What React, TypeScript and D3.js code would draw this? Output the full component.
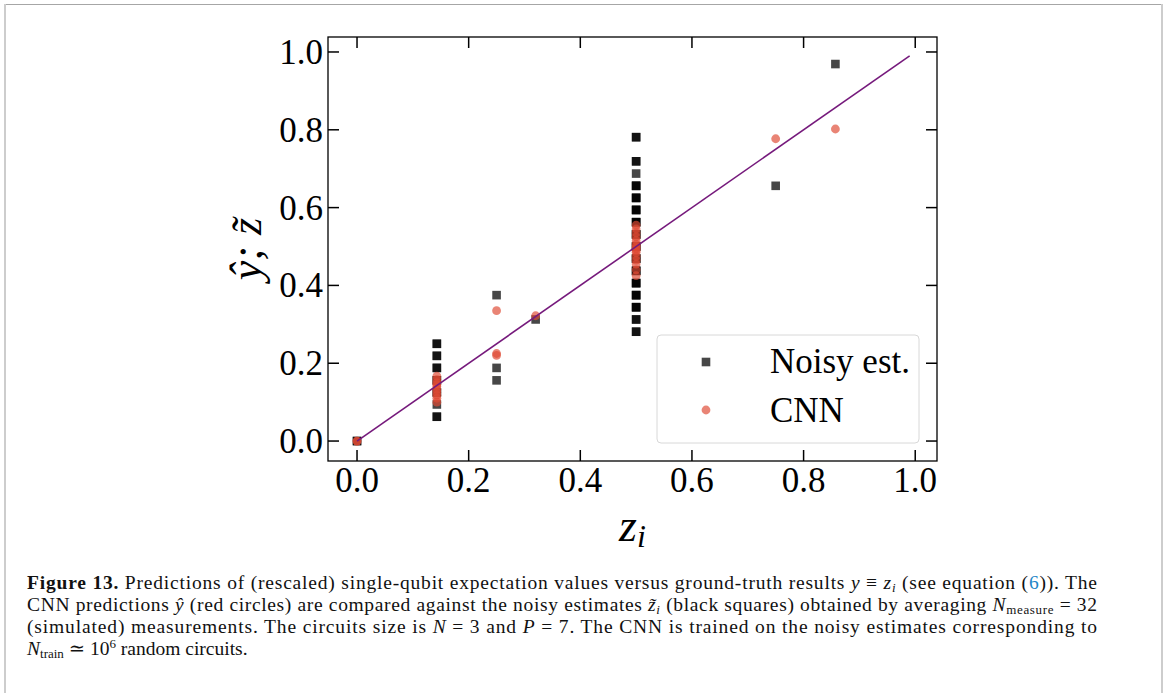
import React from 'react';
import * as d3 from 'd3';

// ---- data ----
const tickValues = [0, 0.2, 0.4, 0.6, 0.8, 1.0];
const tickLabels = ['0.0', '0.2', '0.4', '0.6', '0.8', '1.0'];

// noisy estimates (black squares): ground truth z_i and estimate
const noisyZ = [
  0, 0,
  0.143, 0.143, 0.143, 0.143, 0.143, 0.143, 0.143, 0.143, 0.143, 0.143, 0.143, 0.143, 0.143,
  0.25, 0.25, 0.25,
  0.32,
  0.5, 0.5, 0.5, 0.5, 0.5, 0.5, 0.5, 0.5, 0.5, 0.5, 0.5, 0.5, 0.5, 0.5, 0.5, 0.5,
  0.5, 0.5, 0.5, 0.5, 0.5, 0.5, 0.5, 0.5, 0.5, 0.5, 0.5, 0.5, 0.5, 0.5, 0.5, 0.5,
  0.5, 0.5, 0.5, 0.5, 0.5, 0.5, 0.5, 0.5, 0.5, 0.5,
  0.75,
  0.857,
];
const noisyEst = [
  0, 0,
  0.25, 0.25, 0.219, 0.219, 0.188, 0.188, 0.156, 0.156, 0.125, 0.125, 0.094, 0.0625, 0.0625,
  0.375, 0.188, 0.156,
  0.3125,
  0.781, 0.781, 0.719, 0.719, 0.6875, 0.656, 0.656, 0.656, 0.625, 0.625, 0.625, 0.594, 0.594, 0.594, 0.5625, 0.5625,
  0.5625, 0.531, 0.531, 0.531, 0.5, 0.5, 0.5, 0.469, 0.469, 0.469, 0.4375, 0.4375, 0.4375, 0.406, 0.406, 0.406,
  0.375, 0.375, 0.375, 0.344, 0.344, 0.344, 0.3125, 0.3125, 0.281, 0.281,
  0.656,
  0.969,
];

// CNN predictions (red circles)
const cnnZ = [
  0, 0,
  0.143, 0.143, 0.143, 0.143, 0.143, 0.143, 0.143, 0.143, 0.143, 0.143,
  0.25, 0.25, 0.25,
  0.32,
  0.5, 0.5, 0.5, 0.5, 0.5, 0.5, 0.5, 0.5, 0.5, 0.5, 0.5, 0.5, 0.5, 0.5, 0.5,
  0.75,
  0.857,
];
const cnnPred = [
  0, 0,
  0.167, 0.158, 0.15, 0.145, 0.14, 0.132, 0.125, 0.118, 0.11, 0.1,
  0.335, 0.225, 0.22,
  0.322,
  0.555, 0.545, 0.535, 0.525, 0.515, 0.505, 0.5, 0.495, 0.49, 0.485, 0.475, 0.465, 0.455, 0.44, 0.425,
  0.777,
  0.802,
];

// identity reference line y = z
const lineZ = [0, 0.99];

const legendNames = ['Noisy est.', 'CNN'];

type Seg = { t: string; b?: boolean; i?: boolean; sub?: boolean; sup?: boolean; c?: string };

const captionLines: Seg[][] = [
  [
    { t: 'Figure 13.', b: true },
    { t: ' Predictions of (rescaled) single-qubit expectation values versus ground-truth results ' },
    { t: 'y', i: true },
    { t: ' \u2261 ' },
    { t: 'z', i: true },
    { t: 'i', i: true, sub: true },
    { t: ' (see equation (' },
    { t: '6', c: '#1f86c8' },
    { t: ')). The' },
  ],
  [
    { t: 'CNN predictions ' },
    { t: '\u0177', i: true },
    { t: ' (red circles) are compared against the noisy estimates ' },
    { t: 'z\u0303', i: true },
    { t: 'i', i: true, sub: true },
    { t: ' (black squares) obtained by averaging ' },
    { t: 'N', i: true },
    { t: 'measure', sub: true },
    { t: ' = 32' },
  ],
  [
    { t: '(simulated) measurements. The circuits size is ' },
    { t: 'N', i: true },
    { t: ' = 3 and ' },
    { t: 'P', i: true },
    { t: ' = 7. The CNN is trained on the noisy estimates corresponding to' },
  ],
  [
    { t: 'N', i: true },
    { t: 'train', sub: true },
    { t: ' \u2243 10' },
    { t: '6', sup: true },
    { t: ' random circuits.' },
  ],
];

const W = 1168;
const H = 693;
const plot = { left: 328, right: 937, top: 37, bottom: 461 };

const serif = "'Liberation Serif', 'DejaVu Serif', serif";

function Caption() {
  const x0 = 27;
  const baselines = [589, 611, 633, 655];
  const rightEdge = 1097;
  return (
    <g fontFamily={serif} fontSize={19.5} fill="#111">
      {captionLines.map((line, li) => {
        let offset = 0;
        const spans = line.map((s, si) => {
          let target = 0;
          if (s.sub) target = 3;
          if (s.sup) target = -7;
          const dy = target - offset;
          offset = target;
          return (
            <tspan
              key={si}
              dy={dy}
              fontWeight={s.b ? 'bold' : 'normal'}
              fontStyle={s.i ? 'italic' : 'normal'}
              fontSize={s.sub || s.sup ? 13 : undefined}
              fill={s.c || undefined}
            >
              {s.t}
            </tspan>
          );
        });
        const justify = li < 3;
        return (
          <text
            key={li}
            x={x0}
            y={baselines[li]}
            textLength={justify ? rightEdge - x0 : undefined}
            lengthAdjust={justify ? 'spacing' : undefined}
            xmlSpace="preserve"
          >
            {spans}
          </text>
        );
      })}
    </g>
  );
}

export default function App() {
  const x = d3.scaleLinear().domain([-0.052, 1.039]).range([plot.left, plot.right]);
  const y = d3.scaleLinear().domain([-0.0513, 1.0385]).range([plot.bottom, plot.top]);
  const line = d3.line<number>().x((d) => x(d)).y((d) => y(d));
  const tickLen = 11;
  const sq = 8.6;

  return (
    <div style={{ position: 'absolute', left: 0, top: 0 }}>
      <svg width={W} height={H} viewBox={`0 0 ${W} ${H}`} style={{ display: 'block', background: '#fff' }}>
        {/* page frame */}
        <line x1={5} y1={4.5} x2={1162} y2={4.5} stroke="#a6a6a6" strokeWidth={1} />
        <line x1={5} y1={4} x2={5} y2={H} stroke="#cdcdcd" strokeWidth={2} />
        <line x1={1162} y1={4} x2={1162} y2={H} stroke="#cdcdcd" strokeWidth={2} />

        {/* markers */}
        <g>
          {noisyZ.map((z, i) => (
            <rect
              key={'n' + i}
              x={x(z) - sq / 2}
              y={y(noisyEst[i]) - sq / 2}
              width={sq}
              height={sq}
              fill="#000"
              fillOpacity={0.72}
            />
          ))}
        </g>
        <g>
          {cnnZ.map((z, i) => (
            <circle key={'c' + i} cx={x(z)} cy={y(cnnPred[i])} r={4.4} fill="#df4a33" fillOpacity={0.68} />
          ))}
        </g>
        <path d={line(lineZ) || ''} fill="none" stroke="#761a7c" strokeWidth={1.6} />

        {/* frame */}
        <rect
          x={plot.left}
          y={plot.top}
          width={plot.right - plot.left}
          height={plot.bottom - plot.top}
          fill="none"
          stroke="#000"
          strokeWidth={1.3}
        />
        {/* ticks inward on all sides */}
        <g stroke="#000" strokeWidth={1.5}>
          {tickValues.map((v) => (
            <g key={'t' + v}>
              <line x1={x(v)} x2={x(v)} y1={plot.bottom} y2={plot.bottom - tickLen} />
              <line x1={x(v)} x2={x(v)} y1={plot.top} y2={plot.top + tickLen} />
              <line x1={plot.left} x2={plot.left + tickLen} y1={y(v)} y2={y(v)} />
              <line x1={plot.right} x2={plot.right - tickLen} y1={y(v)} y2={y(v)} />
            </g>
          ))}
        </g>
        {/* tick labels */}
        <g fontFamily={serif} fontSize={35} fill="#000">
          {tickValues.map((v, i) => (
            <text key={'xl' + i} x={x(v)} y={492} textAnchor="middle">
              {tickLabels[i]}
            </text>
          ))}
          {tickValues.map((v, i) => (
            <text key={'yl' + i} x={323} y={y(v) + 12} textAnchor="end">
              {tickLabels[i]}
            </text>
          ))}
        </g>

        {/* axis labels */}
        <text x={(plot.left + plot.right) / 2} y={541} textAnchor="middle" fontFamily={serif} fontStyle="italic">
          <tspan fontSize={46}>z</tspan>
          <tspan fontSize={32} dy={6}>i</tspan>
        </text>
        <text
          transform={`translate(261, ${(plot.top + plot.bottom) / 2}) rotate(-90)`}
          textAnchor="middle"
          fontFamily={serif}
          fontStyle="italic"
          fontSize={44}
        >
          {'\u0177; z\u0303'}
        </text>

        {/* legend */}
        <rect x={657} y={335} width={262} height={108} rx={4} fill="#fff" fillOpacity={0.8} stroke="#d8d8d8" strokeWidth={1} />
        <rect x={706 - sq / 2} y={362 - sq / 2} width={sq} height={sq} fill="#000" fillOpacity={0.72} />
        <circle cx={706} cy={410} r={4.4} fill="#df4a33" fillOpacity={0.68} />
        <g fontFamily={serif} fontSize={35} fill="#000">
          <text x={770} y={373}>{legendNames[0]}</text>
          <text x={770} y={422}>{legendNames[1]}</text>
        </g>

        <Caption />
      </svg>
    </div>
  );
}
